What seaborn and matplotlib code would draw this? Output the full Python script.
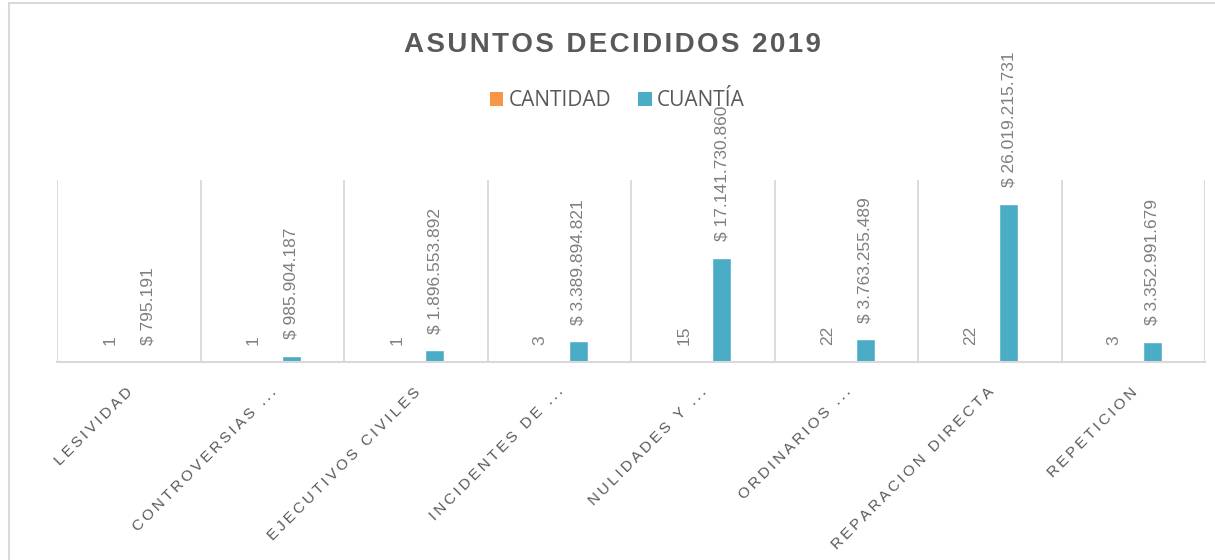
import numpy as np
import pandas as pd
import matplotlib
matplotlib.use("Agg")
import matplotlib.pyplot as plt
from matplotlib.patches import Patch, Rectangle
from matplotlib.transforms import ScaledTranslation
import seaborn as sns

categorias = ["LESIVIDAD", "CONTROVERSIAS ...", "EJECUTIVOS CIVILES", "INCIDENTES DE ...",
              "NULIDADES Y ...", "ORDINARIOS ...", "REPARACION DIRECTA", "REPETICION"]
cantidad = [1, 1, 1, 3, 15, 22, 22, 3]
cuantia = [795191, 985904187, 1896553892, 3389894821, 17141730860,
           3763255489, 26019215731, 3352991679]
series = ["CANTIDAD", "CUANTÍA"]
colores = ["#F79646", "#4BACC6"]
titulo = "ASUNTOS DECIDIDOS 2019"

sns.set_theme(style="white")
plt.rcParams["font.family"] = ["Liberation Sans", "DejaVu Sans"]

df = pd.DataFrame({
    "cat": categorias * 2,
    "serie": [series[0]] * len(categorias) + [series[1]] * len(categorias),
    "valor": cantidad + cuantia,
})

fig = plt.figure(figsize=(12.15, 5.6), dpi=100)
ax = fig.add_axes([57 / 1215, 1 - 362 / 560, (1205 - 57) / 1215, (362 - 180) / 560])

sns.barplot(data=df, x="cat", y="valor", hue="serie", hue_order=series,
            palette=colores, width=0.53, gap=0.5, ax=ax, legend=False,
            saturation=1, errorbar=None)

ax.set_ylim(0, 30e9)
ax.set_xlim(-0.5, len(categorias) - 0.5)
ax.set_yticks([])
ax.set_xlabel("")
ax.set_ylabel("")
for s in ["left", "right", "top"]:
    ax.spines[s].set_visible(False)
ax.spines["bottom"].set_color("#D9D9D9")
ax.spines["bottom"].set_linewidth(1.5)

ax.set_xticks(np.arange(len(categorias) + 1) - 0.5, minor=True)
ax.grid(which="minor", axis="x", color="#D9D9D9", linewidth=1.3)
ax.grid(which="major", visible=False)
ax.tick_params(axis="x", which="both", length=0)


def spaced(s, sep="\u200a"):
    return sep.join(s)


ax.set_xticks(np.arange(len(categorias)))
ax.set_xticklabels([spaced(c, "\u2009") for c in categorias], rotation=45, ha="right",
                   va="center", rotation_mode="anchor", fontsize=11, color="#595959")
ax.tick_params(axis="x", pad=20)
shift = ScaledTranslation(2 / 100, 0, fig.dpi_scale_trans)
for lbl in ax.get_xticklabels():
    lbl.set_transform(lbl.get_transform() + shift)


def fmt_money(v):
    return "$ " + f"{int(v):,}".replace(",", ".")


lab_font = dict(family=["Liberation Sans Narrow", "Liberation Sans", "DejaVu Sans"])
ax.bar_label(ax.containers[0], labels=[str(v) for v in cantidad], padding=12,
             rotation=90, fontsize=12.5, color="#7F7F7F", **lab_font)
ax.bar_label(ax.containers[1], labels=[fmt_money(v) for v in cuantia], padding=12,
             rotation=90, fontsize=12.5, color="#7F7F7F", **lab_font)

fig.text(0.504, 1 - 45 / 560, spaced(titulo), ha="center", va="center", fontsize=20,
         fontweight="bold", color="#595959")

handles = [Patch(facecolor=c, edgecolor="none") for c in colores]
leg = fig.legend(handles, series, loc="center", bbox_to_anchor=(0.508, 1 - 101 / 560),
                 ncol=2, frameon=False, handlelength=0.65, handleheight=0.65,
                 handletextpad=0.25, columnspacing=1.3,
                 prop=dict(family=["Open Sans", "DejaVu Sans"], size=15))
for t in leg.get_texts():
    t.set_color("#595959")

fig.add_artist(Rectangle((8.5 / 1215, -0.05), 1.1, 1.05 - 2.5 / 560, fill=False,
                         edgecolor="#D9D9D9", linewidth=1.5, transform=fig.transFigure))

fig.savefig("out.png", dpi=100, facecolor="white")
